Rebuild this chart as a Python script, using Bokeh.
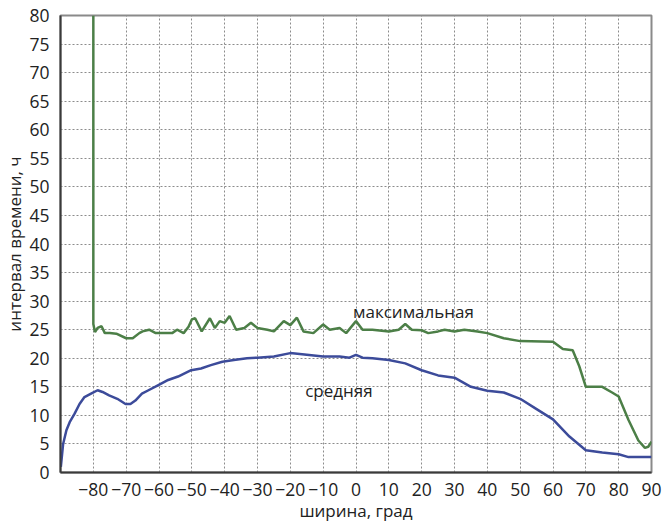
from bokeh.plotting import figure
from bokeh.models import Range1d, Label, FixedTicker
from bokeh.embed import file_html
from bokeh.resources import INLINE

# ---- data ----
lat_max = [-80, -80, -79.5, -78.7, -77.5, -76.5, -75, -73, -70, -68, -66, -65, -63, -61, -58, -56,
           -54.5, -52.5, -51, -50, -49, -47, -44.5, -43, -41.5, -40, -38.5, -36.5, -34, -32, -30,
           -27, -25, -22, -20, -18, -16, -13, -10, -8, -5, -3, 0, 2, 5, 10, 13, 15, 17, 20, 22,
           25, 27, 30, 33, 37, 40, 45, 50, 60, 63, 66, 68, 70, 75, 78, 80, 83, 86, 88, 89, 90]
max_h = [80, 26, 24.6, 25.3, 25.6, 24.4, 24.4, 24.3, 23.5, 23.5, 24.4, 24.7, 25, 24.4, 24.4, 24.4,
         25, 24.4, 25.5, 26.8, 27, 24.7, 27, 25.3, 26.5, 26.2, 27.4, 25, 25.3, 26.2, 25.3,
         25.0, 24.7, 26.5, 25.8, 27.1, 24.7, 24.4, 25.9, 25.0, 25.3, 24.4, 26.5, 25.0, 25.0, 24.7,
         25.0, 26.0, 25.0, 24.9, 24.4, 24.7, 25.0, 24.7, 25.0, 24.7, 24.4, 23.5, 23.0, 22.9, 21.6,
         21.4, 18.6, 15.0, 15.0, 14.0, 13.3, 9.2, 5.6, 4.3, 4.5, 5.4]

lat_mean = [-89.9, -89.2, -88.2, -87.2, -85.7, -84.2, -82.7, -80.7, -78.7, -77.2, -75.2, -72.7,
            -70.2, -68.7, -67.2, -65.2, -63.2, -60.2, -57.2, -54.2, -50.2, -47.2, -44.2, -40.7,
            -37.2, -33.2, -30, -25, -20, -15, -10, -5, -2, 0, 2, 5, 10, 15, 20, 25, 30, 35, 40,
            45, 50, 55, 60, 65, 70, 75, 80, 83, 90]
mean_h = [1.0, 5, 7.4, 8.8, 10.3, 12, 13.2, 13.8, 14.4, 14.1, 13.5, 12.9, 12.0, 12.0, 12.6, 13.8,
          14.4, 15.3, 16.2, 16.8, 17.9, 18.2, 18.8, 19.4, 19.7, 20.0, 20.1, 20.3, 20.9, 20.6, 20.3,
          20.3, 20.1, 20.6, 20.1, 20.0, 19.7, 19.1, 17.9, 17.0, 16.6, 15.0, 14.3, 14.0, 12.9, 11.1,
          9.3, 6.3, 3.9, 3.5, 3.2, 2.7, 2.7]

x_ticks = [-80, -70, -60, -50, -40, -30, -20, -10, 0, 10, 20, 30, 40, 50, 60, 70, 80, 90]
x_tick_labels = ["\u221280", "\u221270", "\u221260", "\u221250", "\u221240", "\u221230", "\u221220",
                 "\u221210", "0", "10", "20", "30", "40", "50", "60", "70", "80", "90"]
y_ticks = [0, 5, 10, 15, 20, 25, 30, 35, 40, 45, 50, 55, 60, 65, 70, 75, 80]

FONT = "Open Sans"

p = figure(width=662, height=524, x_range=Range1d(-90, 90), y_range=Range1d(0, 80),
           output_backend="svg", toolbar_location=None,
           min_border_left=57, min_border_right=11, min_border_top=15, min_border_bottom=52)
p.outline_line_color = "#8a8a8a"
p.outline_line_width = 2

xt = FixedTicker(ticks=x_ticks)
yt = FixedTicker(ticks=y_ticks)
p.xaxis.ticker = xt
p.yaxis.ticker = yt
p.xgrid.ticker = xt
p.ygrid.ticker = yt
p.xaxis.major_label_overrides = {t: l for t, l in zip(x_ticks, x_tick_labels)}
p.xgrid.grid_line_color = "#8c8c8c"
p.ygrid.grid_line_color = "#8c8c8c"
p.xgrid.grid_line_dash = "2 2"
p.ygrid.grid_line_dash = "2 2"
p.xgrid.grid_line_width = 1
p.ygrid.grid_line_width = 1

# axes
for ax in (p.xaxis, p.yaxis):
    ax.axis_line_color = "#3a3a3a"
    ax.axis_line_width = 2
    ax.major_tick_line_color = None
    ax.minor_tick_line_color = None
    ax.major_label_text_font = FONT
    ax.major_label_text_font_size = "17.5px"
    ax.major_label_text_color = "#222222"
    ax.axis_label_text_font = FONT
    ax.axis_label_text_font_size = "17px"
    ax.axis_label_text_font_style = "normal"
    ax.axis_label_text_color = "#222222"

p.xaxis.axis_label = "ширина, град"
p.yaxis.axis_label = "интервал времени, ч"
p.xaxis.major_label_standoff = 4
p.xaxis.axis_label_standoff = 0
p.yaxis.major_label_standoff = 5
p.yaxis.axis_label_standoff = 0

# lines
p.line(lat_max, max_h, line_color="#4c7f47", line_width=2.5)
p.line(lat_mean, mean_h, line_color="#3c4b9a", line_width=2.5)

# labels
p.add_layout(Label(x=17.5, y=28.2, text="максимальная", text_align="center", text_baseline="middle",
                   text_font=FONT, text_font_size="17px", text_color="#222222"))
p.add_layout(Label(x=-5.2, y=14.4, text="средняя", text_align="center", text_baseline="middle",
                   text_font=FONT, text_font_size="17px", text_color="#222222"))

open("out.html", "w").write(file_html(p, INLINE))
